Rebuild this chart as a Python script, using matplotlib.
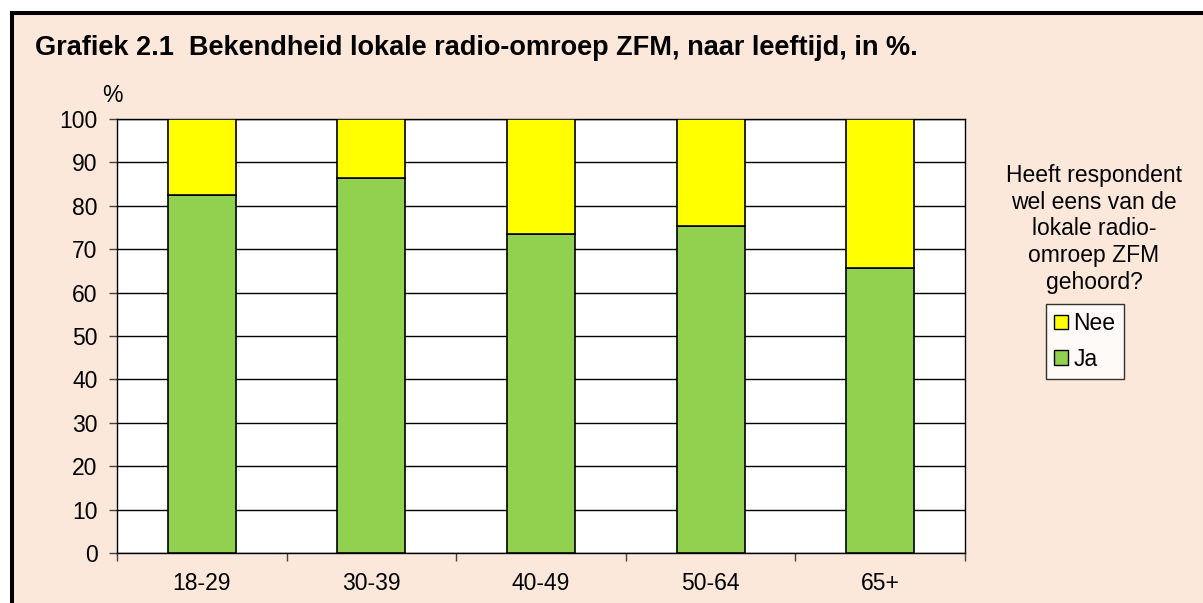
import matplotlib
matplotlib.use("Agg")
import matplotlib.pyplot as plt
from matplotlib.patches import Rectangle, Patch
import numpy as np

plt.rcParams['font.family'] = ['Liberation Sans', 'DejaVu Sans']

categories = ["18-29", "30-39", "40-49", "50-64", "65+"]
ja = [82.5, 86.4, 73.4, 75.3, 65.7]
nee = [100 - v for v in ja]
yticks = [0, 10, 20, 30, 40, 50, 60, 70, 80, 90, 100]

W, H = 1203, 603
fig = plt.figure(figsize=(W / 100, H / 100), dpi=100)
fig.patch.set_facecolor("white")

bg = "#FCE8DA"
bgax = fig.add_axes([0, 0, 1, 1], zorder=-10)
bgax.set_xlim(0, W)
bgax.set_ylim(H, 0)
bgax.axis("off")
bgax.add_patch(Rectangle((12, 13), W + 50, H + 50, facecolor=bg, edgecolor="black",
                         linewidth=2.9, clip_on=False))

FS = 16.5

ax = fig.add_axes([117 / W, 1 - 553 / H, (965 - 117) / W, (553 - 119) / H])
ax.set_facecolor("white")
x = np.arange(len(categories))
ax.bar(x, ja, width=0.40, color="#92D050", edgecolor="black", linewidth=1.2, label="Ja", zorder=3)
ax.bar(x, nee, bottom=ja, width=0.40, color="#FFFF00", edgecolor="black", linewidth=1.2, label="Nee", zorder=3)

ax.set_xlim(-0.5, len(categories) - 0.5)
ax.set_ylim(0, 100)
ax.set_yticks(yticks)
ax.set_yticklabels([str(t) for t in yticks], fontsize=FS)
ax.yaxis.grid(True, color="black", linewidth=1.0, zorder=1)
ax.set_axisbelow(True)

ax.set_xticks(x)
ax.set_xticklabels(categories, fontsize=FS)
ax.set_xticks(np.arange(-0.5, len(categories)), minor=True)
ax.tick_params(axis="x", which="major", length=0, pad=14)
ax.tick_params(axis="x", which="minor", length=6, width=1, direction="out", color="#444444")
ax.tick_params(axis="y", length=6, width=1, direction="out", pad=8, color="#444444")
for s in ax.spines.values():
    s.set_color("black")
    s.set_linewidth(1.0)

fig.text(112 / W, 1 - 95 / H, "%", fontsize=FS, ha="center", va="center")

fig.text(35 / W, 1 - 48 / H, "Grafiek 2.1  Bekendheid lokale radio-omroep ZFM, naar leeftijd, in %.",
         fontsize=19.5, fontweight="bold", ha="left", va="center")

fig.text(1094 / W, 1 - 229 / H, "Heeft respondent\nwel eens van de\nlokale radio-\nomroep ZFM\ngehoord?",
         fontsize=FS, ha="center", va="center", linespacing=1.22)

handles = [Patch(facecolor="#FFFF00", edgecolor="black", label="Nee"),
           Patch(facecolor="#92D050", edgecolor="black", label="Ja")]
leg = fig.legend(handles=handles, loc="upper left",
                 bbox_to_anchor=(1046 / W, 1 - 304 / H), fontsize=FS,
                 frameon=True, fancybox=False, edgecolor="black", facecolor="white",
                 handlelength=0.6, handleheight=0.6, handletextpad=0.25,
                 borderpad=0.35, labelspacing=0.55, borderaxespad=0)
leg.get_frame().set_linewidth(1.0)

fig.savefig("out.png", dpi=100, facecolor=fig.get_facecolor())
